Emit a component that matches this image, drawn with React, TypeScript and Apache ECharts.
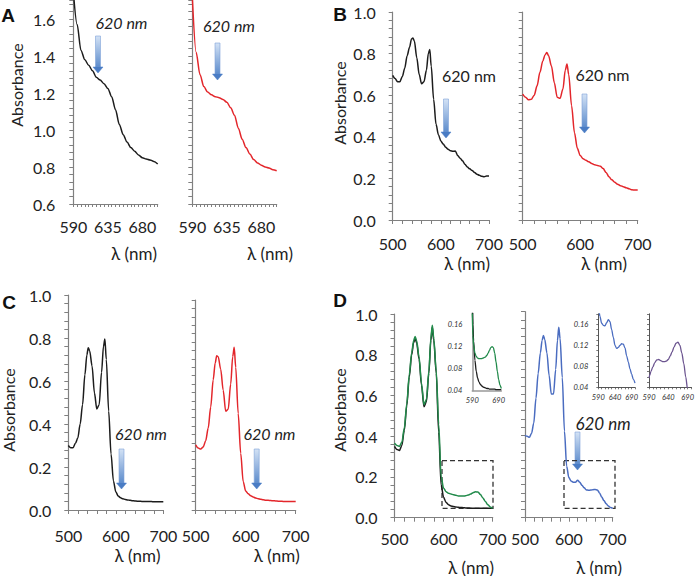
import React, { useEffect, useRef } from 'react';
import * as echarts from 'echarts';

// ---------- data ----------
const WL_A = [590, 595, 600, 605, 610, 615, 620, 625, 630, 635, 640, 645, 650, 655, 660, 665, 670, 675, 680, 685, 690, 695, 700];
const A_BLACK = [1.75, 1.57, 1.43, 1.38, 1.35, 1.32, 1.285, 1.27, 1.25, 1.225, 1.18, 1.11, 1.03, 0.975, 0.935, 0.905, 0.885, 0.865, 0.85, 0.843, 0.838, 0.83, 0.816];
const A_RED = [1.72, 1.42, 1.3, 1.235, 1.205, 1.19, 1.18, 1.175, 1.165, 1.15, 1.12, 1.08, 1.01, 0.95, 0.905, 0.87, 0.84, 0.822, 0.81, 0.8, 0.795, 0.785, 0.78];

const WL = [500, 505, 510, 515, 520, 525, 530, 535, 539, 542, 545, 550, 555, 560, 565, 570, 574, 577, 580, 585, 590, 595, 600, 605, 610, 615, 620, 625, 630, 635, 640, 645, 650, 655, 660, 665, 670, 675, 680, 685, 690, 695, 700];
const B_BLACK = [0.695, 0.68, 0.665, 0.665, 0.69, 0.73, 0.79, 0.83, 0.87, 0.875, 0.86, 0.78, 0.7, 0.655, 0.665, 0.72, 0.8, 0.82, 0.74, 0.58, 0.46, 0.41, 0.38, 0.365, 0.35, 0.34, 0.333, 0.33, 0.332, 0.31, 0.297, 0.285, 0.268, 0.255, 0.246, 0.238, 0.228, 0.22, 0.215, 0.21, 0.208, 0.212, 0.212];
const B_RED = [0.605, 0.59, 0.578, 0.58, 0.6, 0.645, 0.71, 0.765, 0.795, 0.805, 0.79, 0.74, 0.66, 0.59, 0.585, 0.63, 0.72, 0.75, 0.7, 0.55, 0.42, 0.345, 0.31, 0.295, 0.287, 0.28, 0.272, 0.266, 0.262, 0.258, 0.247, 0.228, 0.208, 0.193, 0.182, 0.172, 0.165, 0.16, 0.155, 0.15, 0.145, 0.144, 0.144];
const C_BLACK = [0.3, 0.29, 0.29, 0.31, 0.335, 0.4, 0.49, 0.63, 0.72, 0.755, 0.74, 0.67, 0.545, 0.47, 0.49, 0.64, 0.76, 0.795, 0.7, 0.46, 0.26, 0.135, 0.085, 0.065, 0.057, 0.052, 0.049, 0.047, 0.045, 0.043, 0.042, 0.041, 0.041, 0.04, 0.04, 0.039, 0.039, 0.039, 0.038, 0.038, 0.038, 0.038, 0.038];
const C_RED = [0.31, 0.295, 0.29, 0.3, 0.33, 0.39, 0.49, 0.62, 0.7, 0.735, 0.73, 0.67, 0.57, 0.47, 0.48, 0.6, 0.73, 0.775, 0.68, 0.46, 0.27, 0.135, 0.09, 0.077, 0.068, 0.062, 0.057, 0.054, 0.051, 0.049, 0.047, 0.046, 0.045, 0.044, 0.043, 0.042, 0.042, 0.041, 0.041, 0.04, 0.04, 0.04, 0.04];
const D_BLACK = [0.35, 0.335, 0.33, 0.355, 0.43, 0.55, 0.69, 0.8, 0.86, 0.88, 0.86, 0.78, 0.65, 0.545, 0.57, 0.71, 0.87, 0.935, 0.87, 0.71, 0.42, 0.16, 0.1, 0.075, 0.064, 0.058, 0.055, 0.053, 0.051, 0.05, 0.049, 0.048, 0.048, 0.047, 0.047, 0.046, 0.046, 0.046, 0.046, 0.046, 0.046, 0.046, 0.046];
const D_GREEN = [0.365, 0.355, 0.35, 0.37, 0.44, 0.56, 0.7, 0.81, 0.87, 0.89, 0.87, 0.79, 0.66, 0.555, 0.58, 0.72, 0.88, 0.945, 0.88, 0.72, 0.46, 0.2, 0.145, 0.128, 0.12, 0.116, 0.113, 0.11, 0.107, 0.106, 0.106, 0.108, 0.111, 0.116, 0.123, 0.127, 0.126, 0.114, 0.097, 0.08, 0.064, 0.053, 0.046];
const D_BLUE = [0.4, 0.395, 0.39, 0.41, 0.46, 0.58, 0.7, 0.8, 0.86, 0.885, 0.865, 0.8, 0.69, 0.6, 0.6, 0.72, 0.86, 0.925, 0.87, 0.68, 0.42, 0.25, 0.195, 0.178, 0.172, 0.172, 0.182, 0.172, 0.157, 0.145, 0.135, 0.133, 0.134, 0.136, 0.137, 0.135, 0.12, 0.1, 0.083, 0.068, 0.057, 0.05, 0.045];

const WL_IN = [590, 592, 595, 600, 605, 610, 615, 620, 625, 630, 635, 640, 645, 650, 655, 660, 665, 670, 675, 680, 685, 690, 695, 700];
const INSET_BLACK = [0.19, 0.16, 0.13, 0.095, 0.075, 0.063, 0.056, 0.052, 0.049, 0.047, 0.046, 0.045, 0.044, 0.044, 0.043, 0.043, 0.043, 0.043, 0.043, 0.042, 0.042, 0.042, 0.042, 0.042];
const INSET_GREEN = [0.18, 0.14, 0.122, 0.108, 0.102, 0.099, 0.098, 0.098, 0.098, 0.099, 0.1, 0.101, 0.104, 0.108, 0.113, 0.118, 0.12, 0.118, 0.108, 0.092, 0.075, 0.06, 0.05, 0.044];
const INSET_BLUE = [0.19, 0.185, 0.175, 0.162, 0.158, 0.157, 0.163, 0.169, 0.165, 0.15, 0.135, 0.12, 0.114, 0.116, 0.12, 0.123, 0.122, 0.115, 0.1, 0.088, 0.075, 0.065, 0.055, 0.048];
const INSET_PURPLE = [0.058, 0.063, 0.07, 0.079, 0.087, 0.092, 0.093, 0.091, 0.089, 0.089, 0.09, 0.093, 0.1, 0.108, 0.117, 0.124, 0.126, 0.12, 0.105, 0.085, 0.06, 0.035, 0.03, 0.03];

const PANEL_LETTERS = ['A', 'B', 'C', 'D'];
const Y_TITLE = 'Absorbance';
const X_TITLE = 'λ (nm)';
const MARK_TEXT = '620 nm';

// ---------- styles ----------
const FONT = 'Lato, "Open Sans", sans-serif';
const C_BLK = '#1c1c1c';
const C_RED_ = '#e3262b';
const C_GRN = '#218a4a';
const C_BLU = '#4a6cc0';
const C_PUR = '#6c5590';
const AX = '#808080';

const GRIDS = [
  { left: 73.3, top: 0.5, width: 84.4, height: 203.5 },   // A left
  { left: 192.3, top: 0.5, width: 84.4, height: 203.5 },  // A right
  { left: 392.7, top: 12, width: 96.3, height: 208 },     // B left
  { left: 522.7, top: 12, width: 115, height: 208 },      // B right
  { left: 68.3, top: 295, width: 95, height: 215 },       // C left
  { left: 195.7, top: 300, width: 100, height: 210 },     // C right
  { left: 394.5, top: 314, width: 98.2, height: 203.7 },  // D left
  { left: 525, top: 311.7, width: 87.7, height: 206 },    // D right
  { left: 472.3, top: 313.4, width: 29, height: 77.3 },   // D left inset
  { left: 598.3, top: 313.8, width: 36.7, height: 73.5 }, // D right inset 1
  { left: 649, top: 313.8, width: 44, height: 73.5 },     // D right inset 2
];

const X_MARGIN = [14.5, 14.5, 15, 15, 17, 17, 12.5, 12.5];
const Y_MARGIN = [18, 18, 17, 17, 17, 17, 17, 17];

function mainX(gi: number) {
  const isA = gi < 2;
  return {
    gridIndex: gi, type: 'value',
    min: isA ? 590 : 500, max: 700, interval: isA ? 5 : 20,
    splitLine: { show: false },
    axisLine: { onZero: false, lineStyle: { color: AX, width: 1.2 } },
    axisTick: { length: isA ? 3 : 4, lineStyle: { color: AX, width: 1 } },
    axisLabel: {
      margin: X_MARGIN[gi], fontSize: 16, color: '#222', fontFamily: FONT,
      showMinLabel: true, showMaxLabel: true,
      formatter: (v: number) => {
        const r = Math.round(v);
        if (isA) return (r - 590) % 45 === 0 && r < 700 ? String(r) : '';
        return r % 100 === 0 ? String(r) : '';
      },
    },
  };
}

function mainY(gi: number) {
  const isA = gi < 2;
  const left = gi % 2 === 0;
  return {
    gridIndex: gi, type: 'value',
    min: isA ? 0.6 : 0, max: isA ? 1.7 : 1, interval: 0.04,
    splitLine: { show: false },
    axisLine: { onZero: false, lineStyle: { color: AX, width: 1.2 } },
    axisTick: { length: 4, lineStyle: { color: AX, width: 1 } },
    axisLabel: {
      show: left, margin: Y_MARGIN[gi], fontSize: 16, color: '#222', fontFamily: FONT,
      formatter: (v: number) => {
        const r = Math.round(v * 100);
        return r % 20 === 0 ? (r / 100).toFixed(1) : '';
      },
    },
  };
}

function insetX(gi: number, dense: boolean) {
  return {
    gridIndex: gi, type: 'value', min: 590, max: 700, interval: dense ? 10 : 100,
    splitLine: { show: false },
    axisLine: { onZero: false, lineStyle: { color: dense ? '#555' : '#999', width: dense ? 1 : 1.5 } },
    axisTick: { show: dense, length: 2, lineStyle: { color: '#555', width: 0.8 } },
    axisLabel: {
      margin: 6, fontSize: 7.5, fontStyle: 'italic', color: '#333', fontFamily: FONT,
      formatter: (v: number) => {
        const r = Math.round(v);
        return (r - 590) % (dense ? 50 : 100) === 0 && r < 700 ? String(r) : '';
      },
    },
  };
}

function insetY(gi: number, dense: boolean, labels: boolean) {
  return {
    gridIndex: gi, type: 'value', min: 0.04, max: 0.18, interval: dense ? 0.01 : 0.04,
    splitLine: { show: false },
    axisLine: { onZero: false, lineStyle: { color: dense ? '#555' : '#999', width: dense ? 1 : 1.5 } },
    axisTick: { show: dense, length: 2, lineStyle: { color: '#555', width: 0.8 } },
    axisLabel: {
      show: labels, margin: dense ? 10 : 10, fontSize: 7.5, fontStyle: 'italic', color: '#333', fontFamily: FONT,
      formatter: (v: number) => {
        const r = Math.round(v * 100);
        return r % 4 === 0 && r <= 16 ? (r / 100).toFixed(2) : '';
      },
    },
  };
}

function line(gi: number, xs: number[], ys: number[], color: string, width = 1.5) {
  return {
    type: 'line', xAxisIndex: gi, yAxisIndex: gi,
    data: xs.map((x, i) => [x, ys[i]]),
    showSymbol: false, symbol: 'none', smooth: 0.3, smoothMonotone: 'x',
    lineStyle: { color, width }, clip: true, silent: true,
  };
}

// ---------- annotations (layout) ----------
const ARROWS: [number, number, number][] = [
  [98, 36, 73], [217.5, 43, 80], [446, 99, 138], [584.5, 94, 133],
  [121.5, 449, 489], [256.7, 449, 489], [577.5, 432, 470],
];
const LETTER_POS = [[8, 15], [340, 14], [9, 302], [340, 300]];
const YTITLE_POS = [[16, 85], [339, 103], [8, 410], [339, 410]];
const XTITLE_POS = [[134, 253], [270, 253], [467, 263.5], [604, 263.5], [137.5, 555], [276.7, 555], [471, 567], [599, 567]];
const MARK_POS: [number, number, boolean, number][] = [
  [121.5, 22.5, true, 16], [229, 25, true, 16], [469, 75, false, 16], [602.5, 74, false, 16],
  [141, 433.5, true, 16], [269.5, 433.5, true, 16], [603, 423.5, true, 17],
];
const BOXES = [[442, 460.7, 51, 47.6], [564, 460.7, 51, 47.6]];

function buildGraphic() {
  const g: any[] = [];
  PANEL_LETTERS.forEach((t, i) => g.push({
    type: 'text', x: LETTER_POS[i][0], y: LETTER_POS[i][1],
    style: { text: t, fontSize: 19, fontWeight: 'bold', fontFamily: '"Liberation Sans", Arial, sans-serif', fill: '#111', align: 'center', verticalAlign: 'middle' },
  }));
  YTITLE_POS.forEach(([x, y]) => g.push({
    type: 'text', x, y, rotation: Math.PI / 2,
    style: { text: Y_TITLE, fontSize: 16, fontFamily: FONT, fill: '#222', align: 'center', verticalAlign: 'middle' },
  }));
  XTITLE_POS.forEach(([x, y]) => g.push({
    type: 'text', x, y,
    style: { text: X_TITLE, fontSize: 17, fontFamily: FONT, fill: '#222', align: 'center', verticalAlign: 'middle' },
  }));
  MARK_POS.forEach(([x, y, it, fs]) => g.push({
    type: 'text', x, y,
    style: { text: MARK_TEXT, fontSize: fs, fontStyle: it ? 'italic' : 'normal', fontFamily: FONT, fill: '#222', align: 'center', verticalAlign: 'middle' },
  }));
  ARROWS.forEach(([x, y0, y1]) => {
    const hh = 6;
    g.push({
      type: 'rect', shape: { x: x - 2.5, y: y0, width: 5, height: y1 - y0 - hh },
      style: {
        fill: { type: 'linear', x: 0, y: 0, x2: 0, y2: 1, colorStops: [{ offset: 0, color: '#d3e2f5' }, { offset: 1, color: '#5d8ccc' }] },
        stroke: '#7fa3d8', lineWidth: 0.6,
      },
    });
    g.push({
      type: 'polygon', shape: { points: [[x - 5, y1 - hh], [x + 5, y1 - hh], [x, y1]] },
      style: { fill: '#4a7cc4', stroke: '#4a7cc4', lineWidth: 0.5 },
    });
  });
  BOXES.forEach(([x, y, w, h]) => g.push({
    type: 'rect', shape: { x, y, width: w, height: h },
    style: { fill: 'none', stroke: '#333', lineWidth: 1.3, lineDash: [5, 3] },
  }));
  return g;
}

export default function App() {
  const ref = useRef<HTMLDivElement>(null);
  useEffect(() => {
    if (!ref.current) return;
    const chart = echarts.init(ref.current, undefined, { renderer: 'svg' });
    const xAxis: any[] = [];
    const yAxis: any[] = [];
    for (let i = 0; i < 8; i++) { xAxis.push(mainX(i)); yAxis.push(mainY(i)); }
    xAxis.push(insetX(8, false)); yAxis.push(insetY(8, false, true));
    xAxis.push(insetX(9, true)); yAxis.push(insetY(9, true, true));
    xAxis.push(insetX(10, true)); yAxis.push(insetY(10, true, false));
    chart.setOption({
      animation: false,
      grid: GRIDS.map((g) => ({ ...g, containLabel: false })),
      xAxis, yAxis,
      series: [
        line(0, WL_A, A_BLACK, C_BLK),
        line(1, WL_A, A_RED, C_RED_),
        line(2, WL, B_BLACK, C_BLK),
        line(3, WL, B_RED, C_RED_),
        line(4, WL, C_BLACK, C_BLK),
        line(5, WL, C_RED, C_RED_),
        line(6, WL, D_BLACK, C_BLK),
        line(6, WL, D_GREEN, C_GRN),
        line(7, WL, D_BLUE, C_BLU),
        line(8, WL_IN, INSET_BLACK, C_BLK, 1.3),
        line(8, WL_IN, INSET_GREEN, C_GRN, 1.3),
        line(9, WL_IN, INSET_BLUE, C_BLU, 1.3),
        line(10, WL_IN, INSET_PURPLE, C_PUR, 1.3),
      ],
      graphic: buildGraphic(),
    });
    return () => chart.dispose();
  }, []);
  return <div ref={ref} style={{ position: 'absolute', left: 0, top: 0, width: 697, height: 576, background: '#fff' }} />;
}
